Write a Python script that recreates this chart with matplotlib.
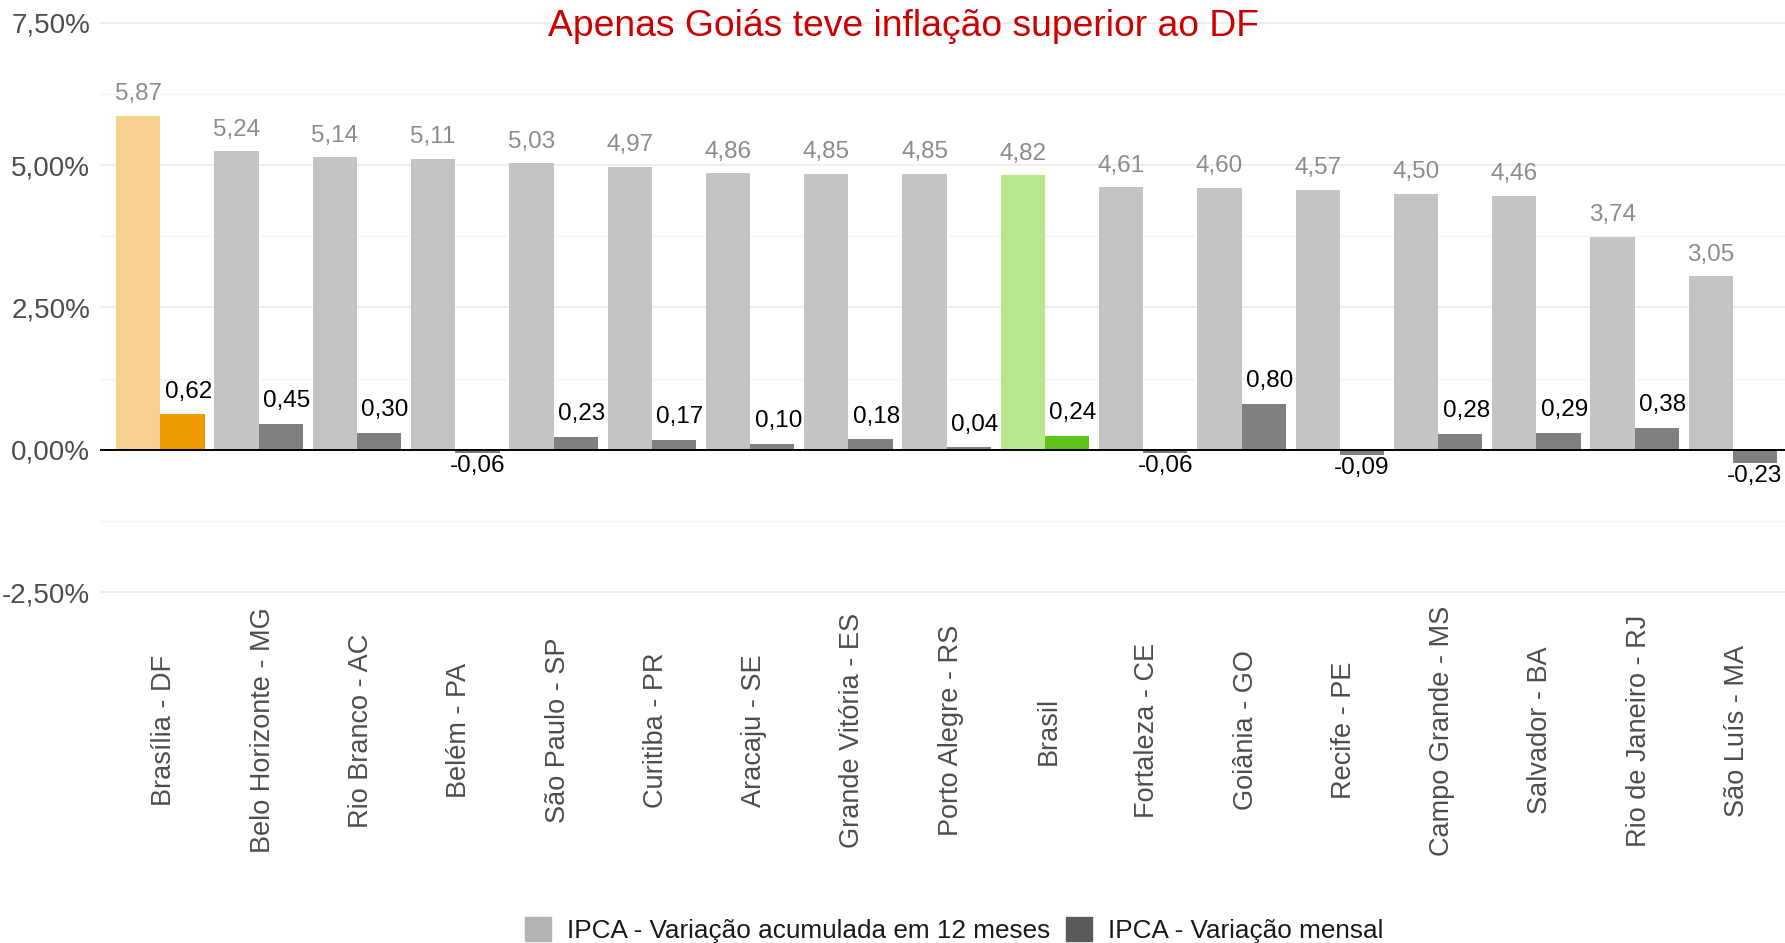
import numpy as np
import matplotlib.pyplot as plt
from matplotlib.patches import Patch
from matplotlib.transforms import ScaledTranslation

plt.rcParams['font.family'] = ['Liberation Sans', 'DejaVu Sans']

cidades = ["Brasília - DF", "Belo Horizonte - MG", "Rio Branco - AC", "Belém - PA",
           "São Paulo - SP", "Curitiba - PR", "Aracaju - SE", "Grande Vitória - ES",
           "Porto Alegre - RS", "Brasil", "Fortaleza - CE", "Goiânia - GO",
           "Recife - PE", "Campo Grande - MS", "Salvador - BA", "Rio de Janeiro - RJ",
           "São Luís - MA"]
acum_12m = [5.87, 5.24, 5.14, 5.11, 5.03, 4.97, 4.86, 4.85, 4.85, 4.82,
            4.61, 4.60, 4.57, 4.50, 4.46, 3.74, 3.05]
mensal = [0.62, 0.45, 0.30, -0.06, 0.23, 0.17, 0.10, 0.18, 0.04, 0.24,
          -0.06, 0.80, -0.09, 0.28, 0.29, 0.38, -0.23]
y_ticks = [-2.5, 0, 2.5, 5, 7.5]

# cores: destaque para DF (laranja) e Brasil (verde)
cor_acum = ['#c4c4c4'] * len(cidades)
cor_mens = ['#808080'] * len(cidades)
cor_acum[0], cor_mens[0] = '#f5d08e', '#ee9b00'
i_br = cidades.index("Brasil")
cor_acum[i_br], cor_mens[i_br] = '#b9e68c', '#5ec41a'

fig = plt.figure(figsize=(17.85, 9.43), dpi=100)
ax = fig.add_axes([100 / 1785, 1 - 600 / 943, 1 - 100 / 1785, 600 / 943])

x = np.arange(len(cidades))
w = 0.45
ax.bar(x - w / 2, acum_12m, w, color=cor_acum, zorder=2)
ax.bar(x + w / 2, mensal, w, color=cor_mens, zorder=2)

def fmt(v):
    return f"{v:.2f}".replace('.', ',')

for xi, v in zip(x, acum_12m):
    ax.annotate(fmt(v), (xi - w / 2, v), xytext=(0, 15.5), textcoords='offset points',
                ha='center', va='center', fontsize=17.5, color='#8c8c8c')
for xi, v in zip(x, mensal):
    off = (4.3, 16.5) if v >= 0 else (0, -9.5)
    ax.annotate(fmt(v), (xi + w / 2, v), xytext=off, textcoords='offset points',
                ha='center', va='center', fontsize=17.5, color='black', annotation_clip=False)

ax.axhline(0, color='black', lw=1.4, zorder=3)

ax.set_xlim(-0.615, 16.53)
ax.set_ylim(-2.64, 7.9)
ax.set_yticks(y_ticks)
ax.set_yticklabels([fmt(t) + '%' for t in y_ticks], fontsize=20, color='#4d4d4d')
ax.set_yticks([-1.25, 1.25, 3.75, 6.25], minor=True)
ax.grid(which='major', axis='y', color='#ebebeb', lw=1.2, zorder=0)
ax.grid(which='minor', axis='y', color='#f5f5f5', lw=1.0, zorder=0)
ax.set_xticks(x)
ax.set_xticklabels(cidades, rotation=90, fontsize=19.5, color='#4d4d4d', va='center', ha='center')
ax.tick_params(axis='x', length=0, pad=94)
ax.tick_params(axis='y', which='both', length=0, pad=7)
desloc = ScaledTranslation(4 / 100, 0, fig.dpi_scale_trans)
for lab in ax.get_xticklabels():
    lab.set_transform(lab.get_transform() + desloc)
for s in ax.spines.values():
    s.set_visible(False)

fig.text(903 / 1785, 1 - 26 / 943, "Apenas Goiás teve inflação superior ao DF",
         ha='center', va='center', fontsize=26.8, color='#cc0000')

handles = [Patch(color='#b3b3b3', label='IPCA - Variação acumulada em 12 meses'),
           Patch(color='#595959', label='IPCA - Variação mensal')]
fig.legend(handles=handles, loc='center', bbox_to_anchor=(954 / 1785, 1 - 930 / 943), ncol=2,
           frameon=False, fontsize=18.8, handlelength=1.0, handleheight=1.0,
           handletextpad=0.6, columnspacing=0.6, labelcolor='#1a1a1a')

fig.savefig('out.png', dpi=100)
